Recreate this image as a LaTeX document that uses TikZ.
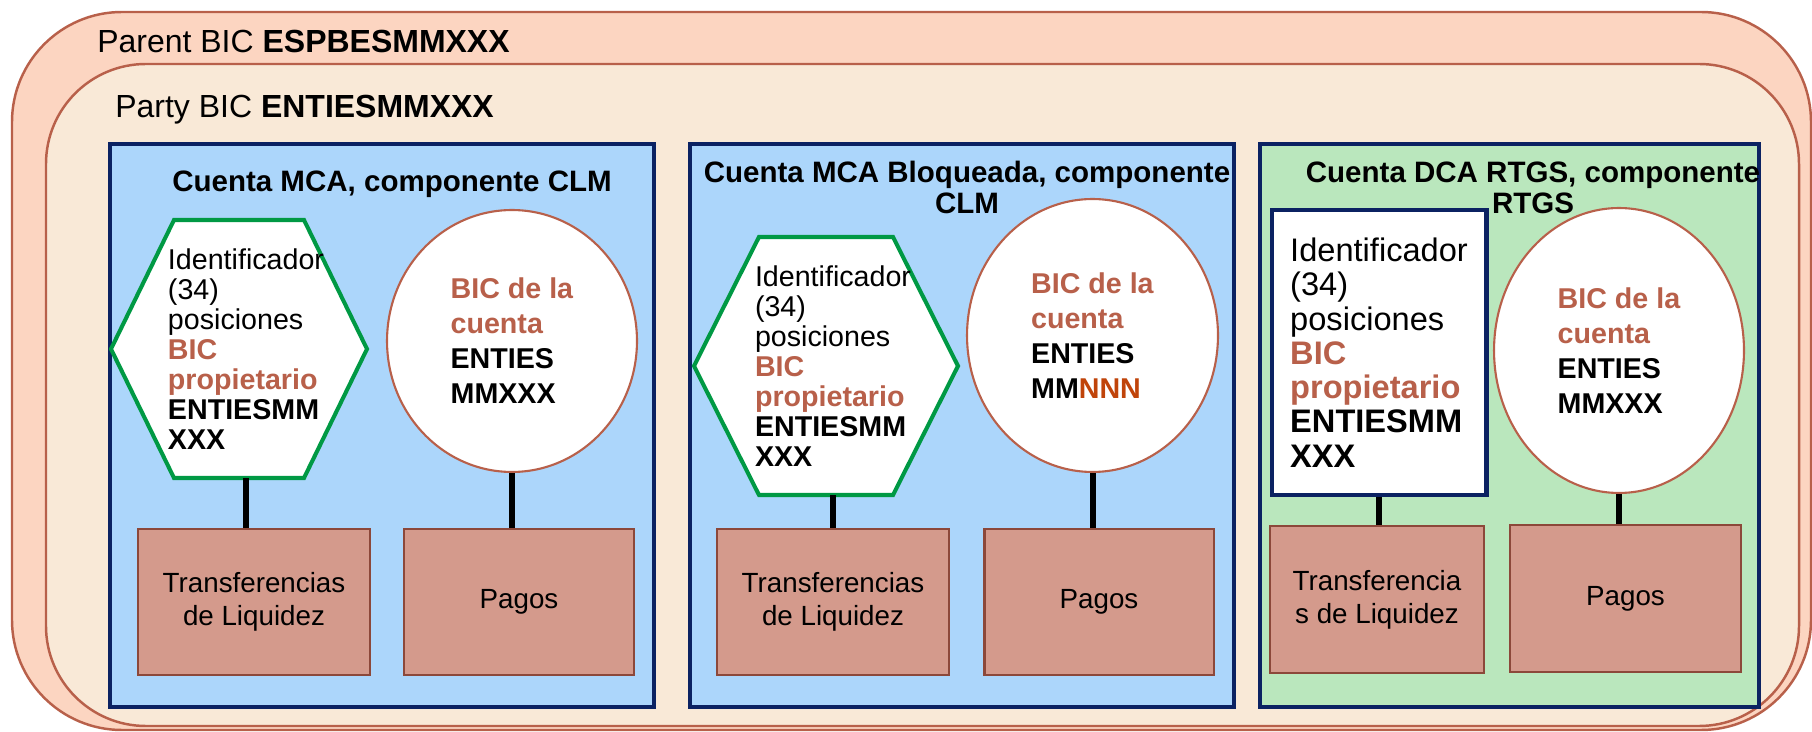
\documentclass[tikz,border=0pt]{standalone}
\usepackage{fontspec}
\setmainfont{Liberation Sans}
\usetikzlibrary{shapes.geometric}
\definecolor{parentfill}{RGB}{252,213,193}
\definecolor{partyfill}{RGB}{249,233,215}
\definecolor{marco}{RGB}{184,96,74}
\definecolor{azulmarino}{RGB}{11,34,98}
\definecolor{mcablue}{RGB}{172,214,251}
\definecolor{dcagreen}{RGB}{186,231,189}
\definecolor{hexgreen}{RGB}{0,153,68}
\definecolor{flujofill}{RGB}{212,154,140}
\definecolor{flujodraw}{RGB}{140,72,58}
\definecolor{bicred}{RGB}{184,96,74}
\definecolor{nnn}{RGB}{192,68,10}
\newcommand*{\Rojo}[1]{\textcolor{bicred}{\textbf{#1}}}
\newcommand*{\IdTxt}{Identificador\\(34)\\posiciones\\\Rojo{BIC}\\\Rojo{propietario}\\\textbf{ENTIESMM}\\\textbf{XXX}}

\begin{document}
\begin{tikzpicture}[x=0.02cm, y=-0.02cm,
    cuenta/.style={draw=azulmarino, line width=2.3pt},
    titulo/.style={anchor=north, inner sep=0pt, align=center, font=\bfseries\fontsize{16.8}{17.6}\selectfont},
    hexline/.style={draw=hexgreen, fill=white, line width=2.3pt},
    idtext/.style={inner sep=0pt, align=left, minimum height=5.16cm, font=\fontsize{16.3}{17.1}\selectfont},
    bic/.style={ellipse, draw=marco, fill=white, line width=1.2pt, inner sep=0pt, align=left, font=\fontsize{16.3}{19.9}\selectfont},
    flujo/.style={draw=flujodraw, fill=flujofill, line width=1.4pt, inner sep=0pt, align=center, font=\fontsize{15.8}{18.8}\selectfont},
    link/.style={line width=3.4pt}]
    \useasboundingbox (0,0) rectangle (1812,732);
    \draw[draw=marco, fill=parentfill, line width=1.4pt, rounded corners=2.2cm] (12,12) rectangle (1811,730);
    \draw[draw=marco, fill=partyfill, line width=1.4pt, rounded corners=2cm] (46,64) rectangle (1799,726);
    \node[anchor=base west, inner sep=0pt, font=\fontsize{18.2}{20}\selectfont] (parent) at (97,53) {Parent BIC \textbf{ESPBESMMXXX}};
    \node[anchor=base west, inner sep=0pt, font=\fontsize{18.2}{20}\selectfont] (party) at (115,118) {Party BIC \textbf{ENTIESMMXXX}};

    \foreach \xa/\xb/\col in {110/654/mcablue, 690/1234/mcablue, 1260/1759/dcagreen}{
        \draw[cuenta, fill=\col] (\xa,144) rectangle (\xb,707);
    }

    \foreach \cx/\cy/\hw/\tw/\nm in {239/349/128/65/hexA, 826/366/132/67/hexB}{
        \draw[hexline] (\cx-\hw,\cy) -- (\cx-\tw,\cy-129) -- (\cx+\tw,\cy-129) -- (\cx+\hw,\cy) -- (\cx+\tw,\cy+129) -- (\cx-\tw,\cy+129) -- cycle;
        \node[idtext] (\nm) at (\cx+7,\cy) {\IdTxt};
    }
    \node[draw=azulmarino, line width=2.3pt, fill=white, minimum width=4.3cm, minimum height=5.7cm, inner sep=0pt, align=left, font=\fontsize{18.55}{19.5}\selectfont] (idC) at (1379,352.5) {\IdTxt};

    \node[bic, minimum width=5cm, minimum height=5.24cm] (bicA) at (512,341) {\Rojo{BIC de la}\\\Rojo{cuenta}\\\textbf{ENTIES}\\\textbf{MMXXX}};
    \node[bic, minimum width=5.02cm, minimum height=5.46cm] (bicB) at (1092.5,335.5) {\Rojo{BIC de la}\\\Rojo{cuenta}\\\textbf{ENTIES}\\\textbf{MM\textcolor{nnn}{NNN}}};
    \node[bic, minimum width=5cm, minimum height=5.7cm] (bicC) at (1619,350.5) {\Rojo{BIC de la}\\\Rojo{cuenta}\\\textbf{ENTIES}\\\textbf{MMXXX}};

    \node[flujo, minimum width=4.64cm, minimum height=2.92cm] (tlA) at (254,602) {Transferencias\\de Liquidez};
    \node[flujo, minimum width=4.6cm, minimum height=2.92cm] (pagA) at (519,602) {Pagos};
    \node[flujo, minimum width=4.64cm, minimum height=2.92cm] (tlB) at (833,602) {Transferencias\\de Liquidez};
    \node[flujo, minimum width=4.59cm, minimum height=2.92cm] (pagB) at (1099,602) {Pagos};
    \node[flujo, minimum width=4.28cm, minimum height=2.94cm] (tlC) at (1377,599.5) {Transferencia\\s de Liquidez};
    \node[flujo, minimum width=4.62cm, minimum height=2.94cm] (pagC) at (1625.5,598.5) {Pagos};

    \foreach \a/\b in {hexA/tlA, bicA/pagA, hexB/tlB, bicB/pagB, idC/tlC, bicC/pagC}{
        \draw[link] (\a.south) -- (\a.south |- \b.north);
    }

    \node[titulo] (tituloA) at (392,170.5) {Cuenta MCA, componente CLM};
    \node[titulo] (tituloB) at (967,160.5) {Cuenta MCA Bloqueada, componente\\CLM};
    \node[titulo] (tituloC) at (1533,161.5) {Cuenta DCA RTGS, componente\\RTGS};
\end{tikzpicture}
\end{document}
